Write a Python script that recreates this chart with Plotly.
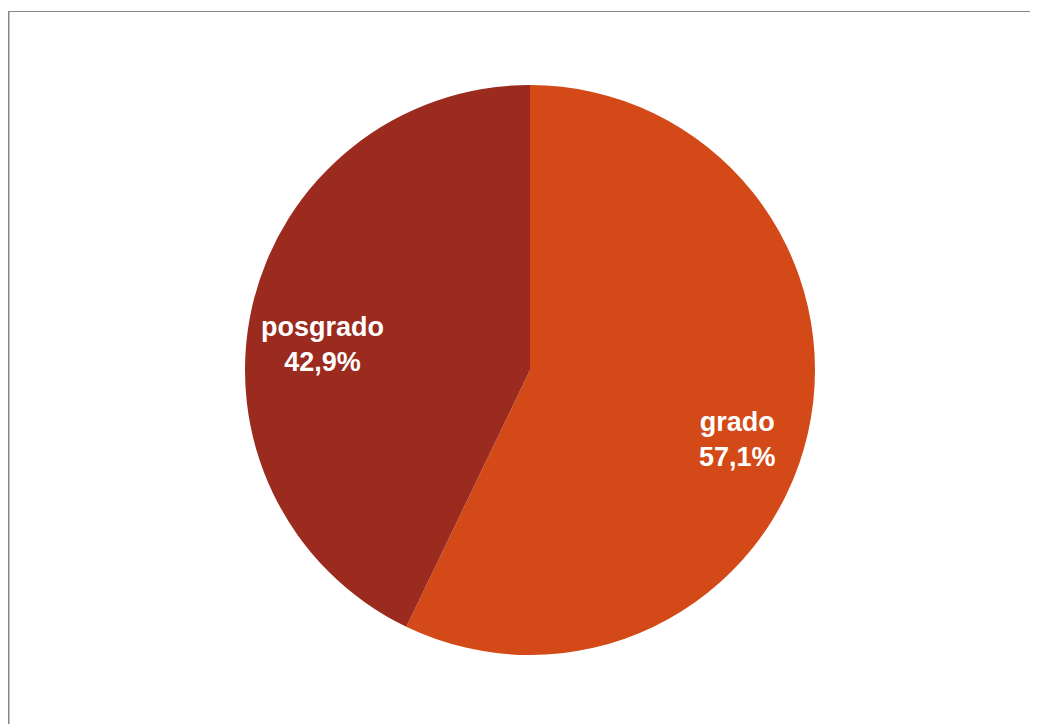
import math
import plotly.graph_objects as go

labels = ["grado", "posgrado"]
values = [4, 3]
colors = ["#D34A18", "#9B2B1F"]

W, H = 1038, 724
# pie geometry in figure pixels
cx, cy, r = 522, 362, 285
label_frac = 0.745
label_drop = 22  # px downward offset of data labels

fig = go.Figure(go.Pie(
    labels=labels,
    values=values,
    sort=False,
    direction="clockwise",
    rotation=0,
    marker=dict(colors=colors, line=dict(width=0)),
    textinfo="none",
    hoverinfo="label+percent",
    domain=dict(x=[(cx - r) / W, (cx + r) / W], y=[(H - cy - r) / H, (H - cy + r) / H]),
    showlegend=False,
))

# data labels placed at slice mid-angles, computed from the values
total = sum(values)
annotations = []
start = 90.0
for lab, v in zip(labels, values):
    share = v / total
    mid = math.radians(start - share * 360 / 2)
    start -= share * 360
    px = cx + label_frac * r * math.cos(mid)
    py = cy - label_frac * r * math.sin(mid) + label_drop
    pct = f"{share * 100:.1f}".replace(".", ",")
    annotations.append(dict(
        x=px / W, y=1 - py / H, xref="paper", yref="paper",
        text=f"<b>{lab}<br>{pct}%</b>", showarrow=False,
        xanchor="center", yanchor="middle", align="center",
        font=dict(family="Liberation Sans, Arial, sans-serif", size=27, color="white"),
    ))

fig.update_layout(
    width=W, height=H,
    margin=dict(l=0, r=0, t=0, b=0),
    paper_bgcolor="white",
    plot_bgcolor="white",
    separators=",.",
    annotations=annotations,
    shapes=[
        dict(type="line", xref="paper", yref="paper", x0=0.5 / W, x1=0.5 / W, y0=-0.1, y1=1 - 3.5 / H,
             line=dict(color="#888888", width=2)),
        dict(type="line", xref="paper", yref="paper", x0=0, x1=1.1, y0=1 - 3.5 / H, y1=1 - 3.5 / H,
             line=dict(color="#888888", width=1.2)),
    ],
)

fig.write_html("out.html")
